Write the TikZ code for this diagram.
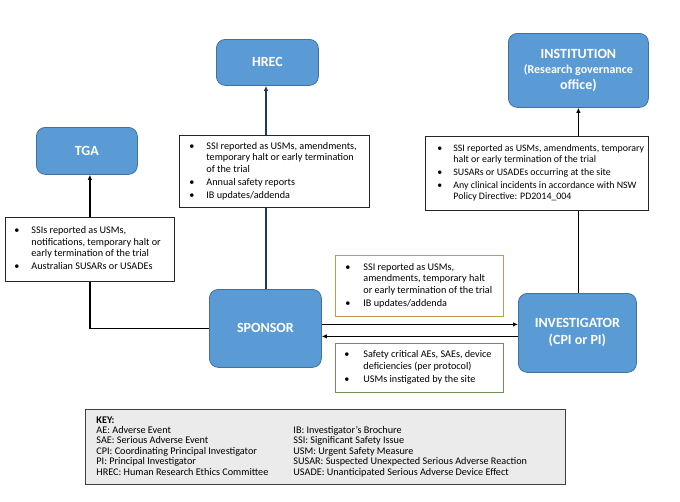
\documentclass[tikz,border=0pt]{standalone}
\usepackage{fontspec}
\setmainfont{Carlito}
\usetikzlibrary{arrows.meta}
\definecolor{boxblue}{HTML}{5B9BD5}
\definecolor{boxedge}{HTML}{41719C}
\definecolor{navy}{HTML}{1F3864}
\definecolor{goldedge}{HTML}{BF9B50}
\definecolor{sageedge}{HTML}{71905A}
\definecolor{keyfill}{HTML}{EBEBEB}
\definecolor{keyedge}{HTML}{3F3F3F}
\newcommand{\blist}[4]{\makebox[#1pt][l]{\begin{tabular}{@{\hspace{#2pt}}p{#3pt}@{}l@{}}#4\end{tabular}}}
\tikzset{
  party/.style={draw=boxedge, line width=0.8pt, fill=boxblue, rounded corners=9pt,
    text=white, font=\fontsize{14}{16}\selectfont\bfseries, align=center,
    anchor=north west, inner sep=0pt},
  infobox/.style={draw=black!85, line width=0.8pt, fill=white, inner sep=0pt,
    anchor=north west, font=\fontsize{10.2}{11.6}\selectfont},
  keybox/.style={draw=keyedge, line width=0.9pt, fill=keyfill, inner sep=0pt,
    anchor=north west, font=\fontsize{10.2}{10.4}\selectfont},
  arr/.style={-{Latex[length=5pt,width=4.5pt]}, line width=1.2pt},
  plain/.style={line width=1.2pt},
}
\begin{document}
\begin{tikzpicture}[x=1pt,y=-1pt]
\useasboundingbox (0,0) rectangle (680,501);

% parties
\node[party, minimum width=101pt, minimum height=47pt] (tga) at (36,127) {TGA};
\node[party, minimum width=102pt, minimum height=46pt] (hrec) at (216,39) {HREC};
\node[party, minimum width=140pt, minimum height=74pt] (inst) at (508,33)
  {INSTITUTION\\[-1pt]\fontsize{12}{14}\selectfont (Research governance\\office)};
\node[party, minimum width=112pt, minimum height=78pt] (sponsor) at (209,289) {SPONSOR};
\node[party, minimum width=118pt, minimum height=79pt] (invest) at (518,293)
  {INVESTIGATOR\\[1pt](CPI or PI)};

% information boxes
\node[infobox, minimum height=64pt] (tgabox) at (5,217)
  {\blist{169}{9}{17}{%
  • & SSIs reported as USMs,\\
    & notifications, temporary halt or\\
    & early termination of the trial\\[1.5pt]
  • & Australian SUSARs or USADEs}};

\node[infobox, minimum height=72pt] (hrecbox) at (179,135)
  {\blist{190}{10}{17}{%
  • & SSI reported as USMs, amendments,\\
    & temporary halt or early termination\\
    & of the trial\\[1.5pt]
  • & Annual safety reports\\[1.5pt]
  • & IB updates/addenda}};

\node[infobox, minimum height=74pt, font=\fontsize{9.9}{11.3}\selectfont] (instbox) at (425,136)
  {\blist{223}{12}{16}{%
  • & SSI reported as USMs, amendments, temporary\\
    & halt or early termination of the trial\\[1.5pt]
  • & SUSARs or USADEs occurring at the site\\[1.5pt]
  • & Any clinical incidents in accordance with NSW\\
    & Policy Directive: PD2014\_004}};

\node[infobox, draw=goldedge, minimum height=61pt] (goldbox) at (335,255)
  {\blist{168}{10}{18}{%
  • & SSI reported as USMs,\\
    & amendments, temporary halt\\
    & or early termination of the trial\\[1.5pt]
  • & IB updates/addenda}};

\node[infobox, draw=sageedge, minimum height=49pt] (greenbox) at (335,343)
  {\blist{168}{9}{19}{%
  • & Safety critical AEs, SAEs, device\\
    & deficiencies (per protocol)\\[1.5pt]
  • & USMs instigated by the site}};

% key
\node[keybox, minimum height=75pt] (key) at (85,409)
  {\makebox[480pt][l]{\begin{tabular}{@{\hspace{11pt}}p{197pt}@{}l@{}}
  \textbf{KEY:} & \\
  AE: Adverse Event & IB: Investigator's Brochure\\
  SAE: Serious Adverse Event & SSI: Significant Safety Issue\\
  CPI: Coordinating Principal Investigator & USM: Urgent Safety Measure\\
  PI: Principal Investigator & SUSAR: Suspected Unexpected Serious Adverse Reaction\\
  HREC: Human Research Ethics Committee & USADE: Unanticipated Serious Adverse Device Effect
  \end{tabular}}};

% connectors: TGA
\draw[arr] (tgabox.north) -- (tgabox.north |- tga.south);
\draw[plain] (sponsor.west) -| (tgabox.south);

% HREC
\coordinate (hx) at (266,0);
\draw[arr, draw=navy, line width=1.6pt] (hx |- hrecbox.north) -- (hx |- hrec.south);
\draw[plain, draw=navy, line width=1.6pt] (hx |- sponsor.north) -- (hx |- hrecbox.south);

% Institution
\draw[arr] (inst.south |- instbox.north) -- (inst.south);
\draw[plain] (inst.south |- invest.north) -- (inst.south |- instbox.south);

% sponsor <-> investigator
\draw[arr, line width=1.1pt] ([yshift=4pt]sponsor.east) -- ([yshift=4pt]sponsor.east -| invest.west);
\draw[arr, line width=1.7pt] ([yshift=-8pt]sponsor.east -| invest.west) -- ([yshift=-8pt]sponsor.east);
\end{tikzpicture}
\end{document}
